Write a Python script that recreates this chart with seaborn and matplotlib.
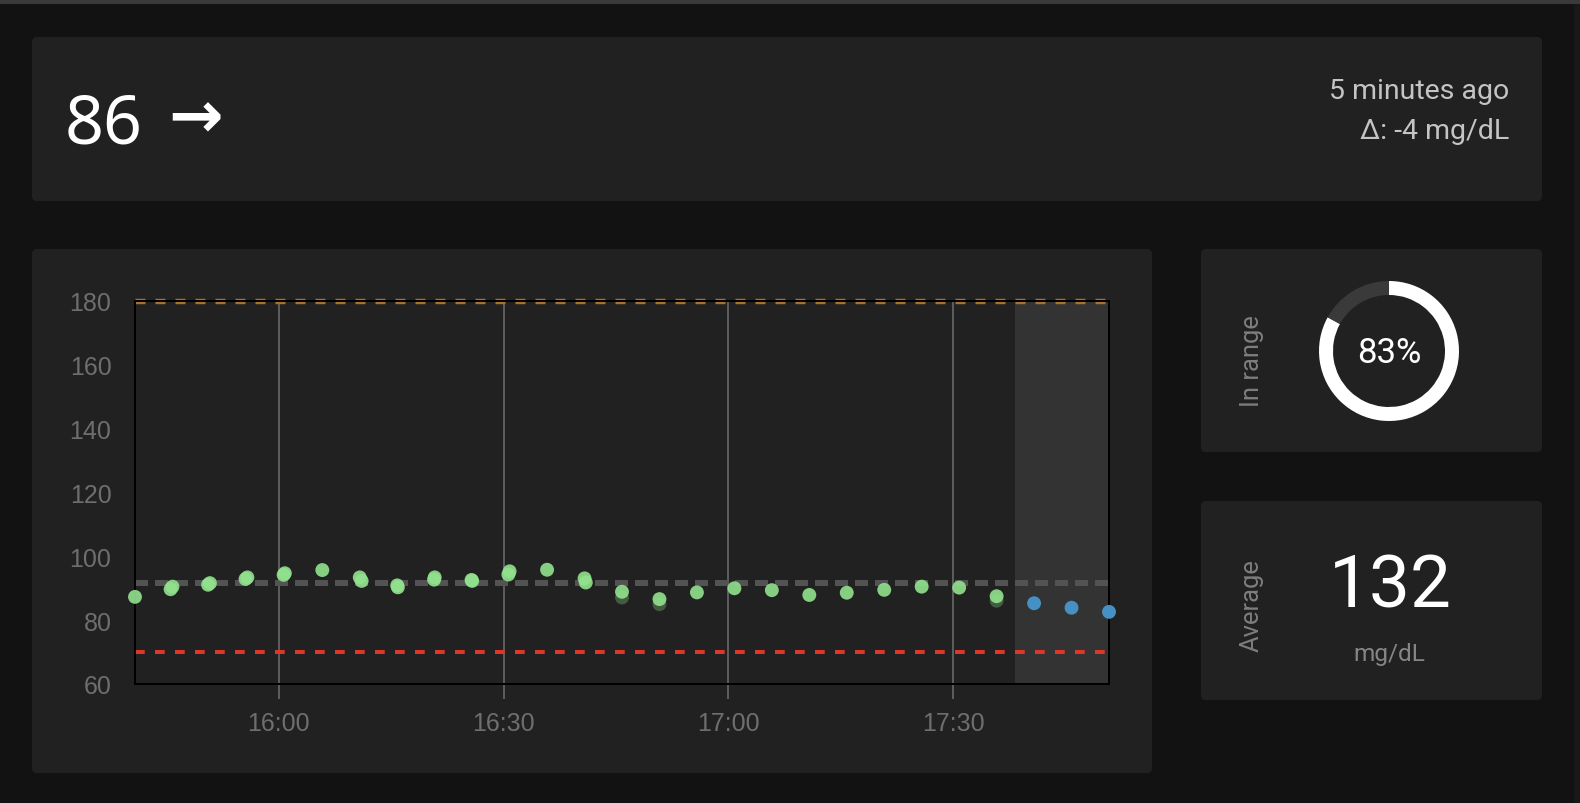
import matplotlib
matplotlib.use("Agg")
import matplotlib.pyplot as plt
import matplotlib.dates as mdates
from matplotlib.patches import FancyBboxPatch, Rectangle
import pandas as pd
import seaborn as sns

# glucose readings (mg/dL), every 5 minutes
reading_times = ["15:40:48", "15:45:48", "15:50:48", "15:55:48", "16:00:48", "16:05:48",
                 "16:10:48", "16:15:48", "16:20:48", "16:25:48", "16:30:48", "16:35:48",
                 "16:40:48", "16:45:48", "16:50:48", "16:55:48", "17:00:48", "17:05:48",
                 "17:10:48", "17:15:48", "17:20:48", "17:25:48", "17:30:48", "17:35:48"]
reading_values = [87.3, 90.5, 91.6, 93.4, 94.7, 95.7, 93.4, 90.9, 93.4, 92.3, 95.3, 95.8,
                  93.1, 88.9, 86.6, 88.7, 90.0, 89.4, 87.9, 88.6, 89.5, 90.5, 90.2, 87.5]

# second copies of some readings (slightly shifted)
dup_times = ["15:45:33", "15:50:33", "15:55:33", "16:00:38", "16:11:03",
             "16:15:53", "16:20:43", "16:25:43", "16:30:38", "16:40:58"]
dup_values = [89.7, 91.1, 92.9, 94.2, 92.3, 90.3, 92.7, 92.6, 94.3, 91.8]

# faded backfill readings
faded_times = ["16:45:48", "16:50:48", "17:35:48"]
faded_values = [87.1, 85.0, 86.1]

# forecast
forecast_times = ["17:40:48", "17:45:48", "17:50:48"]
forecast_values = [85.3, 83.9, 82.6]

low_limit = 70
high_limit = 180
mean_line = 91.6
y_ticks = [60, 80, 100, 120, 140, 160, 180]

current_value = "86"
trend_arrow = "→"
last_update = "5 minutes ago"
delta_text = "Δ: -4 mg/dL"
in_range_pct = 83
average_value = 132
unit = "mg/dL"

DAY = "2024-05-01 "
GREEN = "#92e28e"
BLUE = "#4691c3"
CARD = "#212121"
GRID = "#6e6e6e"


def to_dt(times):
    return pd.to_datetime([DAY + t for t in times])


readings = pd.DataFrame({"time": to_dt(reading_times), "sgv": reading_values})
dups = pd.DataFrame({"time": to_dt(dup_times), "sgv": dup_values})
faded = pd.DataFrame({"time": to_dt(faded_times), "sgv": faded_values})
forecast = pd.DataFrame({"time": to_dt(forecast_times), "sgv": forecast_values})

sns.set_theme(style="dark", rc={
    "axes.facecolor": CARD,
    "figure.facecolor": "#121212",
    "axes.edgecolor": "black",
    "axes.linewidth": 1.44,
    "axes.grid": False,
})
plt.rcParams["font.family"] = ["Liberation Sans", "DejaVu Sans"]
plt.rcParams["lines.scale_dashes"] = False

fig = plt.figure(figsize=(15.8, 8.04), dpi=100)

# page background, cards and texts in pixel coordinates
ax_bg = fig.add_axes([0, 0, 1, 1], zorder=0)
ax_bg.set_xlim(0, 1580)
ax_bg.set_ylim(804, 0)
ax_bg.axis("off")

ax_bg.add_patch(Rectangle((0, 0), 1580, 5, fc="#3a3a3a", ec="none"))
ax_bg.add_patch(Rectangle((1574, 5), 6, 799, fc="#181818", ec="none"))
for x0, y0, w, h in [(32, 38, 1510, 164), (32, 250, 1120, 524),
                     (1201, 250, 341, 203), (1201, 502, 341, 199)]:
    ax_bg.add_patch(FancyBboxPatch((x0, y0), w, h, boxstyle="round,pad=0,rounding_size=5",
                                   fc=CARD, ec="none"))

ax_bg.text(65, 144, current_value, family=["Noto Sans", "DejaVu Sans"],
           size=49, color="white", ha="left", va="baseline")
ax_bg.text(168, 137, trend_arrow, family=["DejaVu Sans"], weight="bold",
           size=47, color="white", ha="left", va="baseline")
ax_bg.text(1509, 99, last_update, family=["Roboto", "DejaVu Sans"], size=20.5,
           color="#c4c4c4", ha="right", va="baseline")
ax_bg.text(1509, 139, delta_text, family=["Roboto", "DejaVu Sans"], size=20.5,
           color="#c4c4c4", ha="right", va="baseline")

ax_bg.text(1252, 361, "In range", family=["Roboto", "DejaVu Sans"], size=18.4,
           color="#7e7e7e", rotation=90, ha="center", va="center")
ax_bg.text(1389, 363, f"{in_range_pct}%", family=["Roboto", "DejaVu Sans"], size=25,
           color="white", ha="center", va="baseline")
ax_bg.text(1252, 606, "Average", family=["Roboto", "DejaVu Sans"], size=18.4,
           color="#7e7e7e", rotation=90, ha="center", va="center")
ax_bg.text(1390, 608, str(average_value), family=["Roboto", "DejaVu Sans"], size=52.5,
           color="white", ha="center", va="baseline")
ax_bg.text(1389, 661, unit, family=["Roboto", "DejaVu Sans"], size=17.6,
           color="#858585", ha="center", va="baseline")

# glucose chart
ax = fig.add_axes([135 / 1580, 1 - 685 / 804, 974 / 1580, 383 / 804], zorder=1)

boundary = readings["time"].iloc[-1] + (forecast["time"].iloc[0] - readings["time"].iloc[-1]) / 2
ax.axvspan(boundary, forecast["time"].iloc[-1], color="#333333", lw=0, zorder=0.4)

ax.axhline(high_limit, color="#a8722c", lw=3.9, dashes=(7.2, 7.2), clip_on=False, zorder=2)
ax.axhline(low_limit, color="#e0362a", lw=2.9, dashes=(7.0, 7.4), zorder=2)
ax.axhline(mean_line, color="#535353", lw=4.3, dashes=(9.4, 5.0), zorder=2)

sns.scatterplot(data=faded, x="time", y="sgv", ax=ax, color=GREEN, s=100, alpha=0.3,
                edgecolor="none", clip_on=False, zorder=3, legend=False)
sns.scatterplot(data=dups, x="time", y="sgv", ax=ax, color=GREEN, s=100, alpha=0.9,
                edgecolor="none", clip_on=False, zorder=3, legend=False)
sns.scatterplot(data=readings, x="time", y="sgv", ax=ax, color=GREEN, s=100, alpha=0.9,
                edgecolor="none", clip_on=False, zorder=3, legend=False)
sns.scatterplot(data=forecast, x="time", y="sgv", ax=ax, color=BLUE, s=100,
                edgecolor="none", clip_on=False, zorder=3, legend=False)

ax.set_xlim(readings["time"].iloc[0], forecast["time"].iloc[-1])
ax.set_ylim(y_ticks[0], y_ticks[-1])
ax.set_yticks(y_ticks)
ax.xaxis.set_major_locator(mdates.MinuteLocator(byminute=[0, 30]))
ax.xaxis.set_major_formatter(mdates.DateFormatter("%H:%M"))
ax.set_xlabel("")
ax.set_ylabel("")
ax.grid(axis="x", color=GRID, lw=1.1, zorder=0.5)
ax.tick_params(axis="x", bottom=True, length=10.8, width=1.1, color=GRID, pad=9,
               labelsize=18, labelcolor=GRID)
ax.tick_params(axis="y", left=True, length=0, pad=17, labelsize=18, labelcolor=GRID)
for sp in ax.spines.values():
    sp.set_visible(True)
    sp.set_color("black")
    sp.set_linewidth(1.44)

# in-range donut
ax_d = fig.add_axes([(1389 - 70) / 1580, 1 - (352 + 70) / 804, 140 / 1580, 140 / 804], zorder=1)
ax_d.pie([in_range_pct, 100 - in_range_pct], colors=["white", "#3a3a3a"], startangle=90,
         counterclock=False, radius=1, wedgeprops=dict(width=0.2, edgecolor="none"))
ax_d.set_xlim(-1, 1)
ax_d.set_ylim(-1, 1)
ax_d.set_aspect("equal")
ax_d.axis("off")

fig.savefig("out.png", dpi=100, facecolor=fig.get_facecolor())
